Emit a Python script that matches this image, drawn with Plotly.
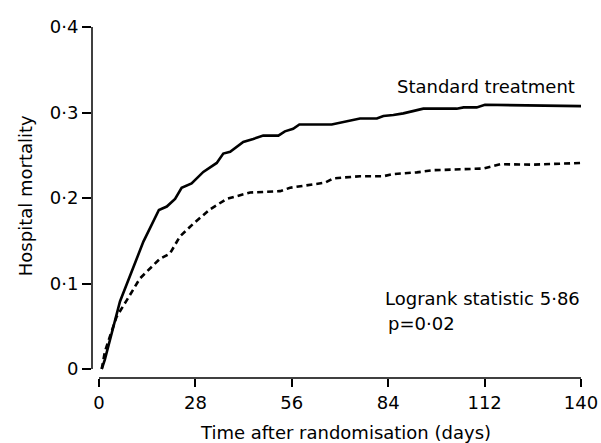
import plotly.graph_objects as go

# Data
std_days = [0.8, 1.7, 6.1, 10, 12.9, 17.4, 19.7, 22.1, 24, 26.9, 30.3, 34.2, 36.1, 38.1,
            41.9, 44.8, 47.7, 52.1, 54, 56.4, 58.2, 67.6, 72.9, 75.8, 80.7, 82.6, 85.5,
            88.4, 94.2, 103.9, 105.9, 109.7, 112.1, 140]
std_mort = [0.0, 0.011, 0.079, 0.12, 0.149, 0.186, 0.19, 0.199, 0.212, 0.217, 0.2305, 0.241,
            0.252, 0.254, 0.2655, 0.269, 0.273, 0.273, 0.278, 0.281, 0.286, 0.286, 0.290,
            0.293, 0.293, 0.296, 0.297, 0.299, 0.3045, 0.3045, 0.306, 0.306, 0.309, 0.3075]

sdd_days = [0.8, 1.7, 2.5, 5.1, 8, 11.9, 17.7, 20.6, 23.5, 27.4, 32.2, 37.1, 43.9, 52.6,
            55.5, 61.3, 65.7, 68.1, 72, 75.8, 82.6, 85.5, 92.3, 97.1, 111.6, 116.5, 126.2, 140]
sdd_mort = [0.0, 0.02, 0.03, 0.061, 0.08, 0.106, 0.129, 0.135, 0.155, 0.170, 0.1866, 0.199,
            0.2064, 0.208, 0.212, 0.215, 0.218, 0.223, 0.224, 0.2255, 0.2255, 0.228, 0.230,
            0.2325, 0.2345, 0.2395, 0.239, 0.241]

x_ticks = [0, 28, 56, 84, 112, 140]
y_ticks = [0, 0.1, 0.2, 0.3, 0.4]
y_tick_text = ["0", "0·1", "0·2", "0·3", "0·4"]

FONT = "DejaVu Sans"
FS = 18

fig = go.Figure()
fig.add_trace(go.Scatter(x=std_days, y=std_mort, mode="lines",
                         line=dict(color="black", width=2.6), name="Standard treatment",
                         cliponaxis=False))
fig.add_trace(go.Scatter(x=sdd_days, y=sdd_mort, mode="lines",
                         line=dict(color="black", width=2.6, dash="6px,4px"), name="SDD",
                         cliponaxis=False))

fig.update_layout(
    width=601, height=443,
    margin=dict(l=92, r=20, t=27, b=65, pad=0, autoexpand=False),
    paper_bgcolor="white", plot_bgcolor="white",
    showlegend=False,
    font=dict(family=FONT, size=FS, color="black"),
    xaxis=dict(range=[-2.03, 140], tickvals=x_ticks, ticktext=[str(v) for v in x_ticks],
               ticks="outside", ticklen=8, tickwidth=1.5, tickcolor="black",
               showline=False, showgrid=False, zeroline=False, automargin=False,
               ticklabeloverflow="allow", tickfont=dict(size=FS)),
    yaxis=dict(range=[-0.0105, 0.4], tickvals=y_ticks, ticktext=y_tick_text,
               ticks="outside", ticklen=9, tickwidth=1.5, tickcolor="black",
               showline=False, showgrid=False, zeroline=False, automargin=False,
               tickfont=dict(size=FS)),
)

# Detached axis lines
fig.add_shape(type="line", xref="x", yref="paper", x0=0, x1=140, y0=0, y1=0,
              line=dict(color="black", width=1.5))
fig.add_shape(type="line", xref="paper", yref="y", x0=0, x1=0, y0=0, y1=0.4,
              line=dict(color="black", width=1.5))

# Axis titles
fig.add_annotation(x=-0.137, y=0.518, xref="paper", yref="paper",
                   text="Hospital mortality", textangle=-90, showarrow=False,
                   xanchor="center", yanchor="middle", font=dict(size=FS))
fig.add_annotation(x=0.519, y=-0.155, xref="paper", yref="paper",
                   text="Time after randomisation (days)", showarrow=False,
                   xanchor="center", yanchor="middle", font=dict(size=FS))

fig.add_annotation(x=138.9, y=0.33, xref="x", yref="y", text="Standard treatment",
                   showarrow=False, xanchor="right", yanchor="middle", font=dict(size=FS))
fig.add_annotation(x=143.2, y=0.2127, xref="x", yref="y", text="SDD",
                   showarrow=False, xanchor="right", yanchor="middle", font=dict(size=FS))
fig.add_annotation(x=82.5, y=0.083, xref="x", yref="y", text="Logrank statistic 5·86",
                   showarrow=False, xanchor="left", yanchor="middle", font=dict(size=FS))
fig.add_annotation(x=83.5, y=0.0538, xref="x", yref="y", text="p=0·02",
                   showarrow=False, xanchor="left", yanchor="middle", font=dict(size=FS))

fig.write_html(
    "out.html",
    config={"displayModeBar": False},
    post_script="document.body.style.margin='0';document.body.style.overflow='hidden';",
)
